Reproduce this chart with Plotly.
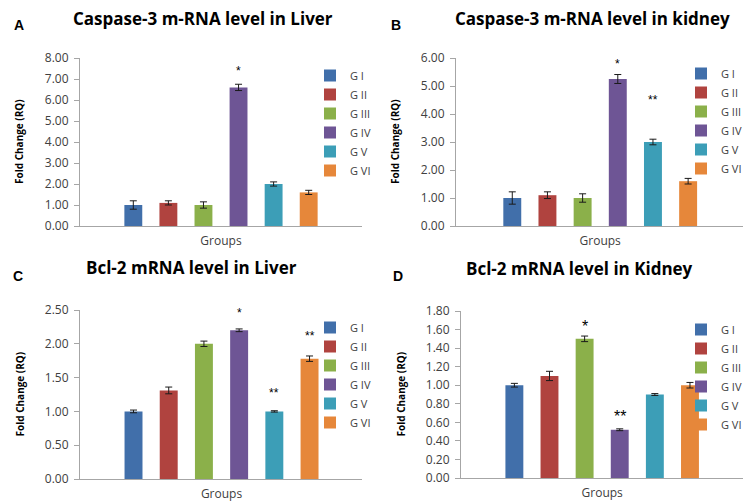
import plotly.graph_objects as go

# groups and colours (Excel 2010 palette)
groups = ["G I", "G II", "G III", "G IV", "G V", "G VI"]
colors = ["#416FAA", "#B0433F", "#8BB04A", "#6E5595", "#3C9EB7", "#E6873A"]

# Caspase-3 in liver
casp_liver = [1.0, 1.1, 1.0, 6.6, 2.0, 1.6]
casp_liver_err = [0.2, 0.1, 0.15, 0.15, 0.1, 0.1]
casp_liver_sig = ["", "", "", "*", "", ""]
casp_liver_sig_y = [None, None, None, 7.5, None, None]

# Caspase-3 in kidney
casp_kidney = [1.0, 1.1, 1.0, 5.25, 3.0, 1.6]
casp_kidney_err = [0.22, 0.12, 0.15, 0.16, 0.1, 0.1]
casp_kidney_sig = ["", "", "", "*", "**", ""]
casp_kidney_sig_y = [None, None, None, 5.9, 4.62, None]

# Bcl-2 in liver
bcl_liver = [1.0, 1.31, 2.0, 2.2, 1.0, 1.78]
bcl_liver_err = [0.02, 0.05, 0.04, 0.02, 0.01, 0.04]
bcl_liver_sig = ["", "", "", "*", "**", "**"]
bcl_liver_sig_y = [None, None, None, 2.5, 1.31, 2.16]

# Bcl-2 in kidney
bcl_kidney = [1.0, 1.1, 1.5, 0.52, 0.9, 1.0]
bcl_kidney_err = [0.02, 0.05, 0.03, 0.01, 0.01, 0.03]
bcl_kidney_sig = ["", "", "*", "**", "", ""]
bcl_kidney_sig_y = [None, None, 1.66, 0.70, None, None]

# the page body adds an 8px margin, so the figure is 8px smaller on each side
OFF = 8
W, H = 753 - OFF, 503 - OFF
AXIS_GREY = "#A6A6A6"
TXT = "#404040"


def px(x):
    return (x - OFF) / W


def py(y):
    return (H - (y - OFF)) / H


panels = [
    dict(letter="A", title="Caspase-3 m-RNA level in Liver", vals=casp_liver, err=casp_liver_err,
         sig=casp_liver_sig, sig_y=casp_liver_sig_y, ymax=8, dtick=1, xd=(80, 362), yd=(58, 226),
         xr=(-1.52, 6.52), star=12, letter_xy=(19, 25), title_xy=(203, 18),
         leg=dict(x=px(310), xanchor="left", y=py(61))),
    dict(letter="B", title="Caspase-3 m-RNA level in kidney", vals=casp_kidney, err=casp_kidney_err,
         sig=casp_kidney_sig, sig_y=casp_kidney_sig_y, ymax=6, dtick=1, xd=(456, 743), yd=(58, 226),
         xr=(-1.6, 6.56), star=12, letter_xy=(396, 25), title_xy=(592, 18),
         leg=dict(x=px(747), xanchor="right", y=py(59))),
    dict(letter="C", title="Bcl-2 mRNA level in Liver", vals=bcl_liver, err=bcl_liver_err,
         sig=bcl_liver_sig, sig_y=bcl_liver_sig_y, ymax=2.5, dtick=0.5, xd=(80, 362), yd=(310, 479),
         xr=(-1.52, 6.49), star=12, letter_xy=(18, 276), title_xy=(191, 267),
         leg=dict(x=px(310), xanchor="left", y=py(313))),
    dict(letter="D", title="Bcl-2 mRNA level in Kidney", vals=bcl_kidney, err=bcl_kidney_err,
         sig=bcl_kidney_sig, sig_y=bcl_kidney_sig_y, ymax=1.8, dtick=0.2, xd=(461, 743), yd=(311, 478),
         xr=(-1.52, 6.51), star=16, letter_xy=(398, 276), title_xy=(579, 268),
         leg=dict(x=px(747), xanchor="right", y=py(315))),
]

fig = go.Figure()
layout = {}
annotations = []

for p_i, p in enumerate(panels):
    n = "" if p_i == 0 else str(p_i + 1)
    leg = "legend" + n
    for g_i, g in enumerate(groups):
        fig.add_trace(go.Bar(
            x=[g_i], y=[p["vals"][g_i]], name=g,
            marker_color=colors[g_i], marker_line_width=0, width=0.51,
            error_y=dict(type="data", array=[p["err"][g_i]], color="#1A1A1A", thickness=1, width=3.5),
            xaxis="x" + n, yaxis="y" + n, legend=leg, legendgroup=f"{p_i}-{g}",
        ))
        if p["sig"][g_i]:
            annotations.append(dict(
                x=g_i, y=p["sig_y"][g_i], xref="x" + n, yref="y" + n, text=p["sig"][g_i],
                showarrow=False, yanchor="middle", yshift=-3,
                font=dict(size=p["star"], color="#000000", family="Liberation Sans"),
            ))

    x0, x1 = p["xd"]
    yt, yb = p["yd"]
    layout["xaxis" + n] = dict(
        domain=[px(x0), px(x1)], range=list(p["xr"]), anchor="y" + n,
        showline=True, linecolor=AXIS_GREY, linewidth=1, showgrid=False, zeroline=False,
        tickvals=[2.5], ticktext=["Groups"], ticks="", ticklabelstandoff=4,
        tickfont=dict(size=12, color=TXT, family="Open Sans"),
    )
    layout["yaxis" + n] = dict(
        domain=[py(yb), py(yt)], range=[0, p["ymax"]], dtick=p["dtick"], anchor="x" + n,
        tickformat=".2f", showline=True, linecolor=AXIS_GREY, linewidth=1, showgrid=False,
        zeroline=False, ticks="outside", ticklen=5, tickcolor=AXIS_GREY, ticklabelstandoff=3,
        tickfont=dict(size=12, color=TXT, family="Open Sans"),
    )
    layout[leg] = dict(
        **p["leg"], yanchor="top",
        font=dict(size=11, color=TXT, family="Open Sans"), bgcolor="rgba(0,0,0,0)",
        itemwidth=30, tracegroupgap=6, traceorder="normal",
    )
    annotations.append(dict(
        x=px(p["title_xy"][0]), y=py(p["title_xy"][1]), xref="paper", yref="paper",
        text="<b>" + p["title"] + "</b>", showarrow=False, xanchor="center", yanchor="middle",
        font=dict(size=17, color="#000000", family="Open Sans"),
    ))
    annotations.append(dict(
        x=px(p["letter_xy"][0]), y=py(p["letter_xy"][1]), xref="paper", yref="paper",
        text="<b>" + p["letter"] + "</b>", showarrow=False, xanchor="center", yanchor="middle",
        font=dict(size=14, color="#000000", family="Liberation Sans"),
    ))
    annotations.append(dict(
        x=px(x0 - 61), y=py((yt + yb) / 2), xref="paper", yref="paper",
        text="<b>Fold Change (RQ)</b>", showarrow=False, textangle=-90,
        xanchor="center", yanchor="middle",
        font=dict(size=10, color="#000000", family="Open Sans"),
    ))

fig.update_layout(
    **layout,
    annotations=annotations,
    width=W, height=H, margin=dict(l=0, r=0, t=0, b=0, autoexpand=False),
    paper_bgcolor="white", plot_bgcolor="white",
    showlegend=True,
)

fig.write_html("out.html")
